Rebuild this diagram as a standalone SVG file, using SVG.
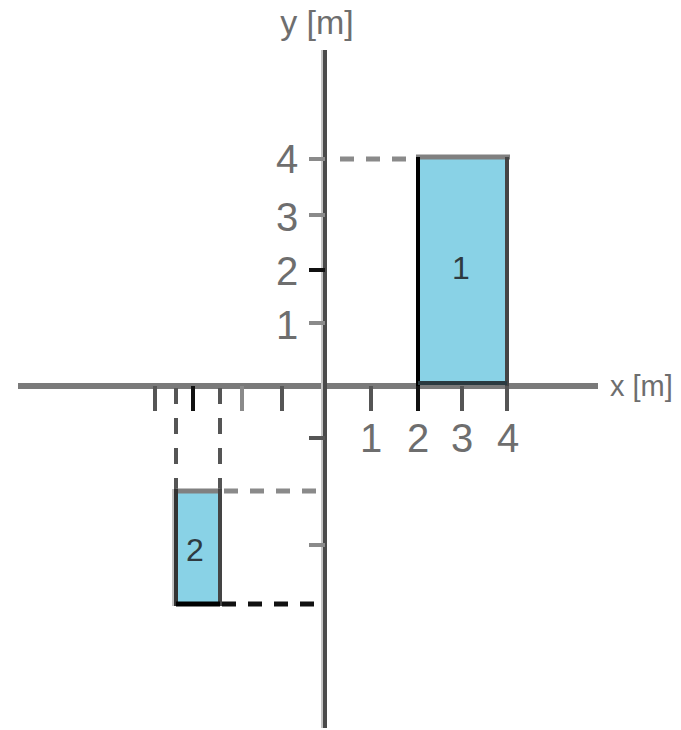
<svg xmlns="http://www.w3.org/2000/svg" width="681" height="730" viewBox="0 0 681 730">
<style>
.lbl{font-family:"Liberation Sans",Arial,sans-serif;fill:#6e6e6e;text-anchor:middle}
.ax{font-size:40px}
.tk{stroke:#555;stroke-width:4}
.tkg{stroke:#8a8a8a;stroke-width:4}
.dg{stroke:#8a8a8a;stroke-width:5;stroke-dasharray:14 12;fill:none}
.db{stroke:#111;stroke-width:5;stroke-dasharray:14 12;fill:none}
.dv{stroke:#555;stroke-width:4;stroke-dasharray:16 14;fill:none}
.fill{fill:#89d2e6}
.num{font-family:"Liberation Sans",Arial,sans-serif;font-size:32px;fill:#2e3a40;text-anchor:middle}
</style>
<rect width="681" height="730" fill="#fff"/>
<g id="axes">
<line x1="18" y1="386" x2="598" y2="386" stroke="#7a7a7a" stroke-width="6"/>
<line x1="325" y1="50" x2="325" y2="728" stroke="#4a4a4a" stroke-width="4"/>
<line x1="322" y1="50" x2="322" y2="728" stroke="#c4c4c4" stroke-width="2"/>
<line class="tkg" x1="309" y1="159" x2="325" y2="159"/>
<line class="tkg" x1="309" y1="215" x2="325" y2="215"/>
<line x1="309" y1="270" x2="325" y2="270" stroke="#111" stroke-width="4"/>
<line class="tkg" x1="309" y1="323" x2="325" y2="323"/>
<line class="tk" x1="309" y1="438" x2="325" y2="438"/>
<line class="tkg" x1="309" y1="545" x2="325" y2="545"/>
<line class="tk" x1="155" y1="386" x2="155" y2="411"/>
<line x1="193" y1="386" x2="193" y2="411" stroke="#111" stroke-width="4"/>
<line class="tkg" x1="242" y1="386" x2="242" y2="411" stroke-width="7"/>
<line class="tk" x1="282" y1="386" x2="282" y2="411"/>
<line class="tk" x1="371" y1="386" x2="371" y2="411"/>
<line class="tk" x1="462" y1="386" x2="462" y2="411"/>
<line class="tk" x1="507" y1="386" x2="507" y2="411"/>
<line x1="418" y1="386" x2="418" y2="411" stroke="#111" stroke-width="4"/>
<text class="lbl" x="317" y="34" font-size="34">y [m]</text>
<text class="lbl" x="610" y="396" font-size="29" style="text-anchor:start">x [m]</text>
<text class="lbl ax" x="287" y="173">4</text>
<text class="lbl ax" x="287" y="231">3</text>
<text class="lbl ax" x="287" y="285">2</text>
<text class="lbl ax" x="287" y="339">1</text>
<text class="lbl ax" x="371" y="452">1</text>
<text class="lbl ax" x="418" y="452">2</text>
<text class="lbl ax" x="462" y="452">3</text>
<text class="lbl ax" x="508" y="452">4</text>
</g>
<g id="connectors">
<line class="dg" x1="340" y1="159" x2="418" y2="159"/>
<line class="dg" x1="224" y1="491" x2="325" y2="491"/>
<line class="db" x1="222" y1="604" x2="325" y2="604"/>
<line class="dv" x1="176" y1="388" x2="176" y2="489"/>
<line class="dv" x1="220" y1="388" x2="220" y2="489"/>
</g>
<g id="node1">
<rect class="fill" x="418" y="159" width="89" height="225"/>
<line x1="416" y1="157" x2="510" y2="157" stroke="#808080" stroke-width="5"/>
<line x1="418" y1="157" x2="418" y2="386" stroke="#000" stroke-width="4"/>
<line x1="507" y1="157" x2="507" y2="386" stroke="#444" stroke-width="4"/>
<line x1="418" y1="383" x2="507" y2="383" stroke="#2a3a40" stroke-width="4"/>
<text class="num" x="461" y="279">1</text>
</g>
<g id="node2">
<rect class="fill" x="176" y="491" width="44" height="113"/>
<line x1="176" y1="491" x2="220" y2="491" stroke="#808080" stroke-width="5"/>
<line x1="176" y1="489" x2="176" y2="606" stroke="#333" stroke-width="4"/>
<line x1="173" y1="489" x2="173" y2="606" stroke="#c4c4c4" stroke-width="2"/>
<line x1="220" y1="489" x2="220" y2="606" stroke="#444" stroke-width="4"/>
<line x1="176" y1="604" x2="220" y2="604" stroke="#000" stroke-width="5"/>
<text class="num" x="195" y="561" fill="#3a5560">2</text>
</g>
</svg>
